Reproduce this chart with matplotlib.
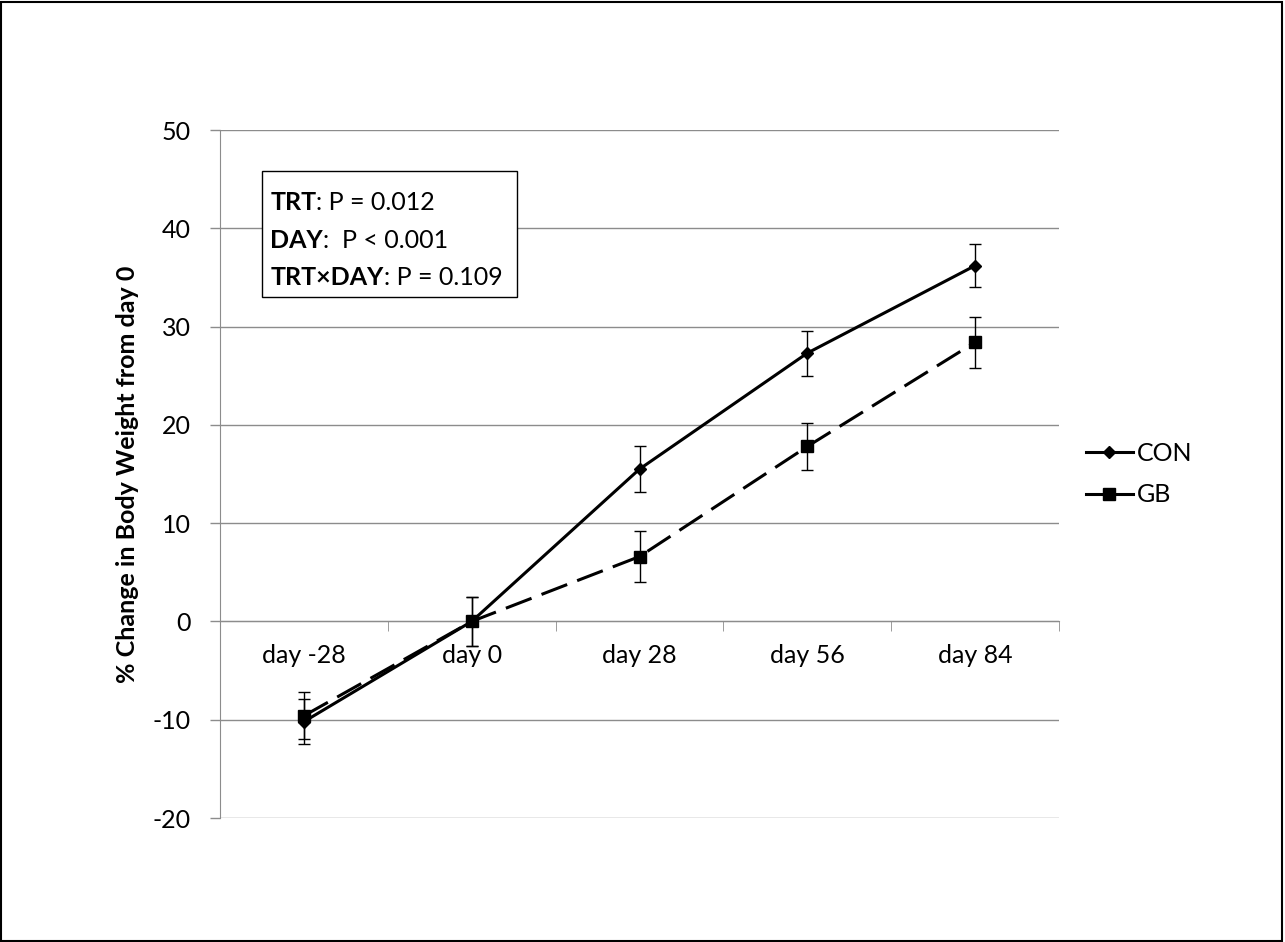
import numpy as np
import matplotlib.pyplot as plt
from matplotlib.patches import Rectangle
from matplotlib.lines import Line2D

plt.rcParams['font.family'] = ['Lato', 'DejaVu Sans']
plt.rcParams['axes.unicode_minus'] = False

days = ['day -28', 'day 0', 'day 28', 'day 56', 'day 84']
con = [-10.2, 0.0, 15.5, 27.3, 36.2]
con_err = [2.3, 2.5, 2.3, 2.3, 2.2]
gb = [-9.6, 0.0, 6.6, 17.8, 28.4]
gb_err = [2.4, 2.5, 2.6, 2.4, 2.6]

FS = 18
GRID = '#8c8c8c'

fig = plt.figure(figsize=(12.85, 9.42), dpi=100)
ax = fig.add_axes([220 / 1285, 1 - 818 / 942, (1059 - 220) / 1285, (818 - 130) / 942])

x = np.arange(len(days))
ax.errorbar(x, con, yerr=con_err, color='black', lw=2.2, marker='D', ms=6,
            capsize=4, elinewidth=1, capthick=1, zorder=3)
ax.errorbar(x, gb, yerr=gb_err, color='black', lw=2.2, ls=(0, (9, 3.5)), marker='s', ms=8,
            capsize=4, elinewidth=1, capthick=1, zorder=3)

ax.set_xlim(-0.5, 4.5)
ax.set_ylim(-20, 50)
ax.set_yticks(range(-20, 51, 10))
ax.yaxis.grid(True, color=GRID, lw=1)
ax.set_axisbelow(True)
for s in ['right', 'top']:
    ax.spines[s].set_visible(False)
ax.spines['left'].set_color(GRID)
ax.spines['bottom'].set_position(('data', 0))
ax.spines['bottom'].set_color(GRID)
ax.tick_params(axis='y', length=7, width=1, color=GRID, labelsize=FS, pad=14)
ax.set_xticks(x)
ax.set_xticklabels(days)
ax.tick_params(axis='x', length=0, labelsize=FS, pad=16)
# category separator ticks
ax.set_xticks(np.arange(-0.5, 5, 1), minor=True)
ax.tick_params(axis='x', which='minor', length=7, color=GRID, direction='out')

ax.set_ylabel('% Change in Body Weight from day 0', fontsize=FS, fontweight='bold', labelpad=10)

# stats box
ax.add_patch(Rectangle((-0.248, 33.0), 1.515, 12.8, fill=True, facecolor='white',
                       edgecolor='black', lw=1, zorder=4))
lines = [('TRT', ': P = 0.012'), ('DAY', ':  P < 0.001'), ('TRT\u00d7DAY', ': P = 0.109')]
for i, (b, r) in enumerate(lines):
    yy = 42.6 - i * 3.8
    t = ax.text(-0.20, yy, b, fontsize=FS, fontweight='bold', va='center', zorder=5)
    fig.canvas.draw()
    bb = t.get_window_extent()
    x1 = ax.transData.inverted().transform((bb.x1, 0))[0]
    ax.text(x1, yy, r, fontsize=FS, va='center', zorder=5)

handles = [Line2D([], [], color='black', lw=2.2, marker='D', ms=6),
           Line2D([], [], color='black', lw=2.2, marker='s', ms=8)]
leg = ax.legend(handles, ['CON', 'GB'], loc='center left', bbox_to_anchor=(1.005, 0.5),
                frameon=False, fontsize=FS, handlelength=1.9, handletextpad=0.15,
                labelspacing=0.75)

fig.add_artist(Rectangle((0.001, 0.001), 0.997, 0.997, transform=fig.transFigure,
                         fill=False, edgecolor='black', lw=1.5))

fig.savefig('out.png', dpi=100)
